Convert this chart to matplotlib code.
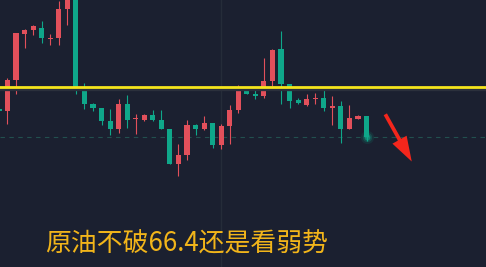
import numpy as np
import matplotlib as mpl
import matplotlib.pyplot as plt

mpl.rcParams["font.family"] = ["Noto Sans CJK SC", "DejaVu Sans"]
mpl.rcParams["axes.unicode_minus"] = False

# K线数据（开、高、低、收）
opens = [66.13, 66.11, 66.48, 67.03, 67.08, 67.10, 66.97, 66.98, 67.33, 67.54,
         66.36, 66.19, 66.14, 65.99, 65.89, 66.19, 66.01, 66.00, 66.06, 66.00,
         65.89, 65.47, 65.58, 65.94, 65.89, 65.96, 65.70, 65.93, 66.12, 66.38,
         66.31, 66.29, 66.47, 66.85, 66.43, 66.24, 66.18, 66.25, 66.26, 66.14,
         66.17, 65.89, 66.01, 66.05]
highs = [66.17, 66.50, 67.04, 67.09, 67.14, 67.19, 67.03, 67.43, 67.58, 67.56,
         66.44, 66.20, 66.14, 66.13, 66.25, 66.30, 66.07, 66.07, 66.12, 66.12,
         65.89, 65.71, 66.00, 65.95, 66.05, 65.96, 65.95, 66.18, 66.42, 66.38,
         66.38, 66.74, 66.85, 67.07, 66.43, 66.26, 66.31, 66.32, 66.38, 66.29,
         66.23, 66.18, 66.06, 66.05]
lows = [66.07, 65.95, 66.31, 66.86, 67.02, 66.92, 66.90, 66.90, 67.14, 66.31,
        66.13, 66.11, 65.94, 65.82, 65.84, 65.90, 65.83, 65.99, 65.99, 65.89,
        65.47, 65.33, 65.52, 65.82, 65.88, 65.66, 65.65, 65.71, 66.08, 66.31,
        66.25, 66.26, 66.41, 66.19, 66.14, 66.19, 66.17, 66.19, 66.11, 65.94,
        65.72, 65.89, 66.01, 65.75]
closes = [66.11, 66.48, 67.04, 67.08, 67.13, 66.98, 66.98, 67.33, 67.54, 66.36,
          66.19, 66.14, 65.99, 65.89, 66.19, 66.00, 66.02, 66.06, 66.00, 65.89,
          65.47, 65.58, 65.94, 65.89, 65.96, 65.70, 65.93, 66.12, 66.38, 66.31,
          66.29, 66.47, 66.84, 66.43, 66.23, 66.20, 66.25, 66.26, 66.14, 66.17,
          65.89, 66.02, 66.05, 65.79]

resistance = 66.4
title = "原油不破66.4还是看弱势"

bg = "#1b2030"
up_color = "#e2505b"
down_color = "#0fa78a"

o = np.array(opens)
h = np.array(highs)
l = np.array(lows)
c = np.array(closes)
x = np.arange(-1, len(o) - 1)
colors = np.where(c >= o, up_color, down_color)

fig = plt.figure(figsize=(4.86, 2.67), dpi=100, facecolor=bg)
ax = fig.add_axes([0, 0, 1, 1])
ax.set_facecolor(bg)
ax.set_xlim(-0.877, 55.98)
ax.set_ylim(64.236, 67.44)
ax.set_axis_off()

# 竖向分隔线
ax.axvline(25, color="#252c39", lw=1.0, zorder=0)

# 当前价虚线
ax.axhline(c[-1], color="#22504f", lw=0.8, ls=(0, (4, 4)), zorder=1)

# 蜡烛
body = c - o
body = np.where(np.abs(body) < 0.012, 0.012, body)
ax.vlines(x, l, h, colors=colors, lw=0.8, zorder=2)
ax.bar(x, body, bottom=o, width=0.6, color=colors, linewidth=0, zorder=3)

# 最新价光点
for s, a in [(90, 0.12), (45, 0.25), (18, 0.6)]:
    ax.scatter(x[-1], c[-1], s=s, color=down_color, alpha=a, lw=0, zorder=4)

# 压力线
ax.axhline(resistance - 0.03, color="#2b303c", lw=2.4, zorder=4)
ax.axhline(resistance, color="#f5e51c", lw=2.0, zorder=5)

# 箭头
ax.annotate("", xy=(0.850, 0.386), xytext=(0.790, 0.581),
            xycoords="axes fraction", textcoords="axes fraction",
            arrowprops=dict(arrowstyle="simple,head_length=1.0,head_width=0.65,tail_width=0.15",
                            color="#f4261c", lw=0, mutation_scale=18),
            zorder=6)

fig.text(45 / 486, 1 - 244 / 267, title, color="#f2b51a", fontsize=18.6,
         fontweight="medium", ha="left", va="center")

fig.savefig("out.png", dpi=100, facecolor=bg)
